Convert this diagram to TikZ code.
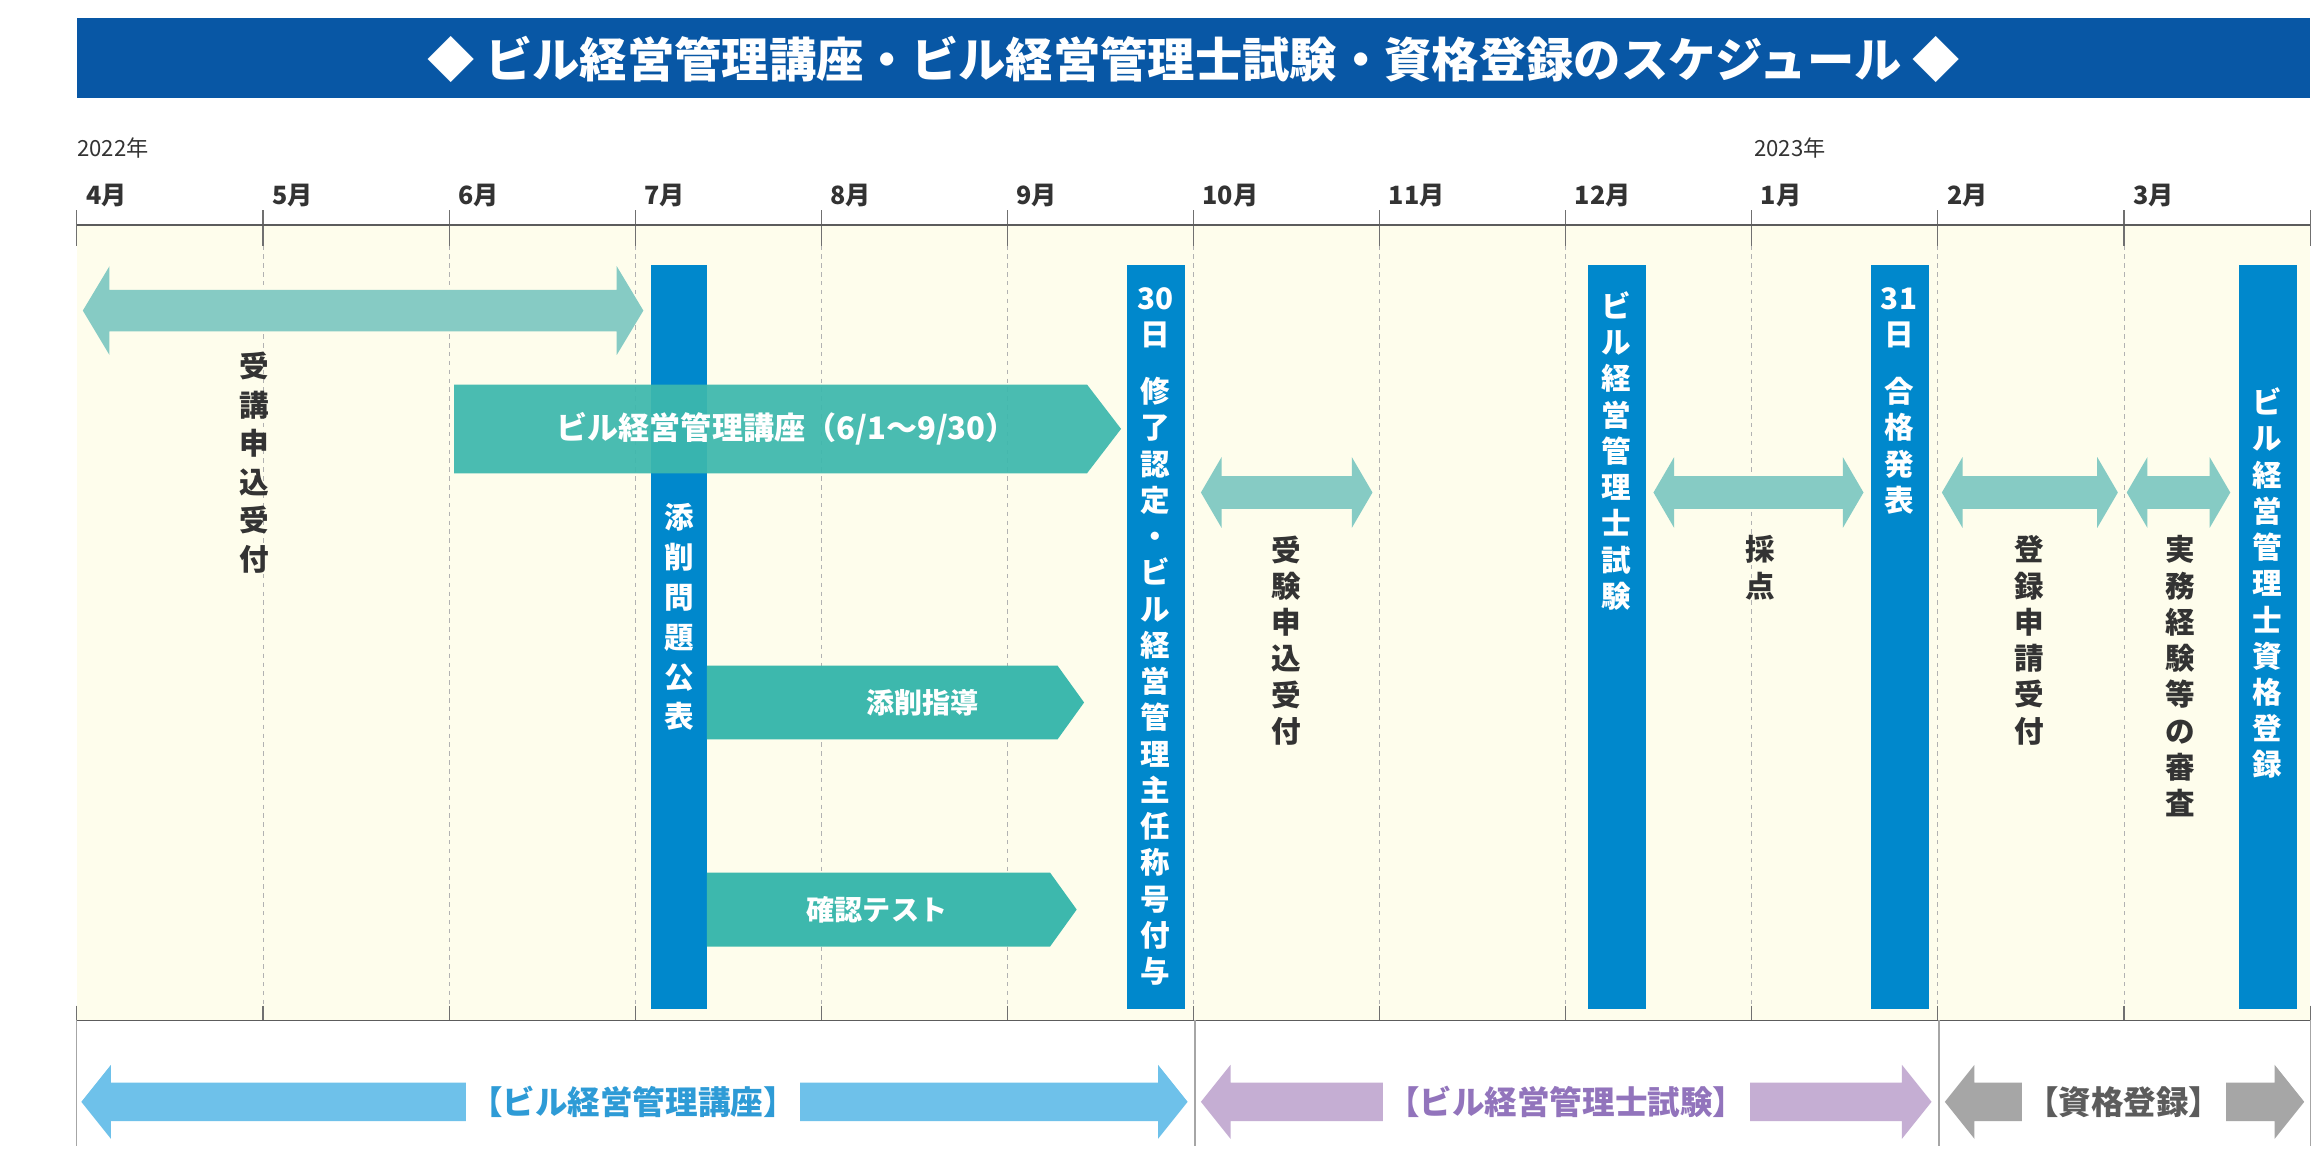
\documentclass[tikz,border=0pt]{standalone}
\usepackage{fontspec}
\setmainfont{Noto Sans CJK JP}
\definecolor{titlebg}{HTML}{0857A5}
\definecolor{cream}{HTML}{FEFDEC}
\definecolor{barblue}{HTML}{0088CC}
\definecolor{lteal}{HTML}{86CBC4}
\definecolor{dteal}{HTML}{3DB8AD}
\definecolor{skyb}{HTML}{6EC1EA}
\definecolor{skyt}{HTML}{2E9BD6}
\definecolor{purp}{HTML}{C5AED3}
\definecolor{purpt}{HTML}{9274BC}
\definecolor{grayA}{HTML}{A6A6A6}
\definecolor{ink}{HTML}{333333}
\newcommand\dblarr[7]{% x1 x2 y shafthalf headhalf headlen color
  \fill[#7] (#1,#3) -- (#1+#6,#3-#5) -- (#1+#6,#3-#4) -- (#2-#6,#3-#4) -- (#2-#6,#3-#5) -- (#2,#3) -- (#2-#6,#3+#5) -- (#2-#6,#3+#4) -- (#1+#6,#3+#4) -- (#1+#6,#3+#5) -- cycle;}
\newcommand\pent[6]{% x1 x2 ytop ybot headlen color
  \fill[#6] (#1,#3) -- (#2-#5,#3) -- (#2,{(#3+#4)/2}) -- (#2-#5,#4) -- (#1,#4) -- cycle;}
\begin{document}
\begin{tikzpicture}[x=1pt,y=-1pt,
  vt/.style={align=center,font=\bfseries\fontsize{20}{24.5}\selectfont,inner sep=0pt,anchor=north},
  vtw/.style={vt,text=white},
  vtd/.style={vt,text=ink},
  mon/.style={font=\bfseries\fontsize{17}{17}\selectfont,text=ink,anchor=west,inner sep=0pt},
  bar/.style={fill=barblue},
  htxt/.style={font=\bfseries\fontsize{19}{19}\selectfont,text=white,inner sep=0pt},
  btxt/.style={fill=white,inner xsep=3pt,inner ysep=6pt,font=\bfseries\fontsize{22}{22}\selectfont}]
\useasboundingbox (0,0) rectangle (1568,781);
\fill[white] (0,0) rectangle (1568,781);
% title
\fill[titlebg] (52,12) rectangle (1562,66);
\node[font=\bfseries\fontsize{32}{32}\selectfont,text=white] (title) at (807,40) {◆ ビル経営管理講座・ビル経営管理士試験・資格登録のスケジュール ◆};
% years
\node[mon,font=\fontsize{15}{15}\selectfont] (y1) at (52,100) {2022年};
\node[mon,font=\fontsize{15}{15}\selectfont] (y2) at (1186,100) {2023年};
% background
\fill[cream] (52,152) rectangle (1562,690);
\foreach \i/\m in {0/4,1/5,2/6,3/7,4/8,5/9,6/10,7/11,8/12,9/1,10/2,11/3}{
  \node[mon] at ({52+\i*125.83+6},132) {\m{}月};
}
\foreach \i in {0,...,12}{
  \draw[ink!70,line width=0.8pt] ({52+\i*125.83},142) -- ({52+\i*125.83},166);
  \draw[ink!70,line width=0.8pt] ({52+\i*125.83},680) -- ({52+\i*125.83},690);
}
\foreach \i in {1,...,11}{
  \draw[gray!60,dashed,line width=0.6pt] ({52+\i*125.83},166) -- ({52+\i*125.83},680);
}
\draw[ink!80,line width=1pt] (52,152) -- (1562,152);
\draw[ink!80,line width=1pt] (52,690) -- (1562,690);
\foreach \x in {52,808,1311,1562} \draw[gray!70,line width=0.8pt] (\x,690) -- (\x,775);
% receiving arrow
\dblarr{56}{435}{210}{14}{30}{18}{lteal}
\node[vtd,font=\bfseries\fontsize{20}{26}\selectfont] (uk) at (172,238) {受\\講\\申\\込\\受\\付};
% bars
\fill[bar] (440,179) rectangle (478,682);
\fill[bar] (762,179) rectangle (801,682);
\fill[bar] (1074,179) rectangle (1113,682);
\fill[bar] (1265,179) rectangle (1304,682);
\fill[bar] (1514,179) rectangle (1553,682);
% course arrow
\pent{307}{758}{260}{320}{23}{dteal,opacity=0.93}
\node[htxt,font=\bfseries\fontsize{21}{21}\selectfont] (course) at (532,290) {ビル経営管理講座（6/1～9/30）};
\pent{478}{733}{450}{500}{18}{dteal}
\node[htxt] (shido) at (624,475) {添削指導};
\pent{478}{728}{590}{640}{18}{dteal}
\node[htxt] (test) at (593,615) {確認テスト};
\node[vtw,font=\bfseries\fontsize{20}{27}\selectfont] (tensaku) at (459,340) {添\\削\\問\\題\\公\\表};
\node[vtw] (d30) at (781,194) {30\\日};
\node[vtw] (shuryo) at (781,255) {修\\了\\認\\定\\・\\ビ\\ル\\経\\営\\管\\理\\主\\任\\称\\号\\付\\与};
\node[vtw] (exam) at (1093,197) {ビ\\ル\\経\\営\\管\\理\\士\\試\\験};
\node[vtw] (d31) at (1284,194) {31\\日};
\node[vtw] (goukaku) at (1284,255) {合\\格\\発\\表};
\node[vtw] (touroku) at (1533,262) {ビ\\ル\\経\\営\\管\\理\\士\\資\\格\\登\\録};
% small double arrows
\dblarr{812}{928}{333}{11}{24}{14}{lteal}
\node[vtd] (juken) at (870,362) {受\\験\\申\\込\\受\\付};
\dblarr{1118}{1260}{333}{11}{24}{14}{lteal}
\node[vtd] (saiten) at (1190,362) {採\\点};
\dblarr{1313}{1432}{333}{11}{24}{14}{lteal}
\node[vtd] (shinsei) at (1372,362) {登\\録\\申\\請\\受\\付};
\dblarr{1438}{1508}{333}{11}{24}{14}{lteal}
\node[vtd] (jitsumu) at (1474,362) {実\\務\\経\\験\\等\\の\\審\\査};
% bottom arrows
\dblarr{55}{803}{745}{13}{25}{20}{skyb}
\node[btxt,text=skyt] (b1) at (428,745) {【ビル経営管理講座】};
\dblarr{812}{1306}{745}{13}{25}{20}{purp}
\node[btxt,text=purpt] (b2) at (1059,745) {【ビル経営管理士試験】};
\dblarr{1315}{1558}{745}{13}{25}{20}{grayA}
\node[btxt,text=ink!80] (b3) at (1436,745) {【資格登録】};
\end{tikzpicture}
\end{document}
